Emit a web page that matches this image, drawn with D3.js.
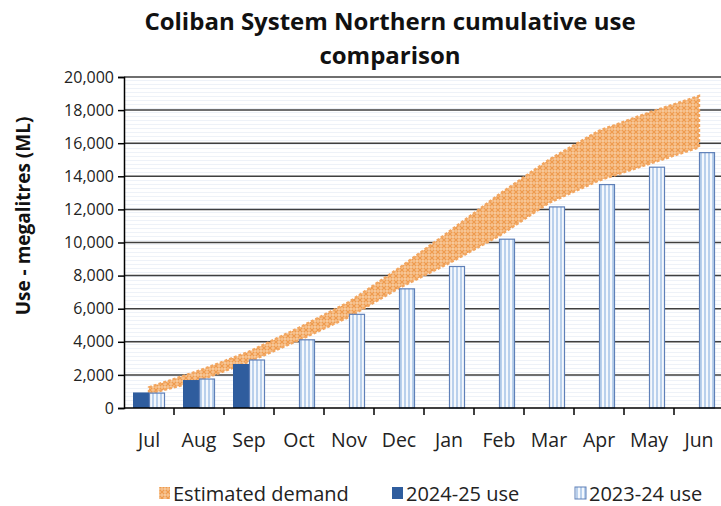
<!DOCTYPE html>
<html><head><meta charset="utf-8">
<script src="https://cdn.jsdelivr.net/npm/d3@7"></script>
<style>body{margin:0;background:#fff}svg{display:block;font-family:"Open Sans",sans-serif}</style>
</head><body><svg id="c" width="721" height="506"></svg>
<script>
const months = ["Jul","Aug","Sep","Oct","Nov","Dec","Jan","Feb","Mar","Apr","May","Jun"];
const use2425 = [940, 1690, 2660];
const use2324 = [900, 1750, 2900, 4120, 5660, 7200, 8550, 10200, 12150, 13500, 14550, 15430];
const demandLow = [850, 1650, 2800, 4100, 5500, 7250, 8750, 10400, 12400, 13750, 14750, 15750];
const demandHigh = [1250, 2250, 3400, 4850, 6400, 8450, 10650, 12900, 15000, 16750, 17850, 18850];
const yTicks = [0,2000,4000,6000,8000,10000,12000,14000,16000,18000,20000];
const seriesNames = ["2024-25 use","2023-24 use"];
const title = ["Coliban System Northern cumulative use","comparison"];
const yTitle = "Use - megalitres (ML)";

const svg = d3.select("#c");
const pLeft = 124, pRight = 724, pTop = 77, pBottom = 408;
const x = d3.scaleBand().domain(months).range([pLeft, pRight]).paddingInner(0).paddingOuter(0);
const xb = d3.scaleBand().domain(seriesNames).range([9, 41]).padding(0);
const y = d3.scaleLinear().domain([0, 20000]).range([pBottom, pTop]);

const defs = svg.append("defs");
const pat = defs.append("pattern").attr("id","dem").attr("patternUnits","userSpaceOnUse").attr("width",6).attr("height",6);
pat.append("rect").attr("width",6).attr("height",6).attr("fill","#F6C08C");
pat.append("path").attr("d","M0,0L6,6M6,0L0,6").attr("stroke","#EE9A4C").attr("stroke-width",1.2);
pat.append("circle").attr("cx",3).attr("cy",3).attr("r",0.9).attr("fill","#FBDDBD");
const sp = defs.append("pattern").attr("id","stripe").attr("patternUnits","userSpaceOnUse").attr("width",4).attr("height",4);
sp.append("rect").attr("width",4).attr("height",4).attr("fill","#F4F8FD");
sp.append("rect").attr("width",2).attr("height",4).attr("fill","#B9D0EC");
const bgp = defs.append("pattern").attr("id","bg").attr("patternUnits","userSpaceOnUse").attr("width",4).attr("height",4);
bgp.append("rect").attr("width",4).attr("height",4).attr("fill","#FFFFFF");
bgp.append("rect").attr("width",4).attr("height",1).attr("fill","#EEF2F8");

svg.append("rect").attr("x",pLeft).attr("y",pTop).attr("width",pRight-pLeft).attr("height",pBottom-pTop).attr("fill","url(#bg)");

svg.append("g").selectAll("line").data(yTicks.filter(d=>d>0)).join("line")
  .attr("x1",pLeft).attr("x2",pRight).attr("y1",d=>y(d)).attr("y2",d=>y(d))
  .attr("stroke","#3F3F3F").attr("stroke-width",1.5);

const cx = d => x(d) + x.bandwidth()/2;
const area = d3.area().x((d,i)=>cx(months[i])).y0((d,i)=>y(demandLow[i])).y1((d,i)=>y(demandHigh[i]));
svg.append("path").datum(months).attr("d",area).attr("fill","url(#dem)")
  .attr("stroke","#F2A660").attr("stroke-width",2.4).attr("stroke-dasharray","3,2");

const g = svg.append("g");
g.selectAll(".b1").data(use2425).join("rect")
  .attr("x",(d,i)=>x(months[i])+xb(seriesNames[0])).attr("width",xb.bandwidth())
  .attr("y",d=>y(d)).attr("height",d=>y(0)-y(d)).attr("fill","#2F5D9E");
g.selectAll(".b2").data(use2324).join("rect")
  .attr("x",(d,i)=>x(months[i])+xb(seriesNames[1])+0.5).attr("width",xb.bandwidth()-1)
  .attr("y",d=>y(d)).attr("height",d=>y(0)-y(d)).attr("fill","url(#stripe)")
  .attr("stroke","#5F80B8").attr("stroke-width",1.2);

const yAxis = d3.axisLeft(y).tickValues(yTicks).tickSize(6).tickFormat(d3.format(","));
const ya = svg.append("g").attr("transform",`translate(${pLeft},0)`).call(yAxis);
ya.select(".domain").attr("stroke","#000").attr("stroke-width",1.5);
ya.selectAll(".tick line").attr("stroke","#000").attr("stroke-width",1.5);
ya.selectAll("text").attr("font-size",16).attr("fill","#222").attr("x",-10).attr("font-family","Open Sans");

const xa = svg.append("g").attr("transform",`translate(0,${pBottom})`);
xa.append("line").attr("x1",pLeft).attr("x2",pRight).attr("stroke","#000").attr("stroke-width",1.5);
xa.selectAll(".tk").data(months.slice(1)).join("line")
  .attr("x1",d=>x(d)).attr("x2",d=>x(d)).attr("y1",0).attr("y2",7).attr("stroke","#000").attr("stroke-width",1.5);
xa.selectAll(".lb").data(months).join("text")
  .attr("x",d=>cx(d)).attr("y",39).attr("text-anchor","middle").attr("font-size",19.5).attr("fill","#222").text(d=>d);

svg.append("g").selectAll("text").data(title).join("text")
  .attr("x",390).attr("y",(d,i)=>30+i*34).attr("text-anchor","middle")
  .attr("font-size",24).attr("font-weight","bold").attr("fill","#111").text(d=>d);
svg.append("text").attr("transform","translate(30,216) rotate(-90)").attr("text-anchor","middle")
  .attr("font-size",19).attr("font-weight","bold").attr("fill","#111").text(yTitle);

const lg = svg.append("g").attr("font-size",20).attr("fill","#222");
const items = [
  {label:"Estimated demand", x:159, fill:"url(#dem)", stroke:"none"},
  {label:seriesNames[0], x:392, fill:"#2F5D9E", stroke:"none"},
  {label:seriesNames[1], x:575, fill:"url(#stripe)", stroke:"#5F80B8"}
];
items.forEach(it=>{
  lg.append("rect").attr("x",it.x).attr("y",487).attr("width",11).attr("height",12)
    .attr("fill",it.fill).attr("stroke",it.stroke);
  lg.append("text").attr("x",it.x+14).attr("y",501).text(it.label);
});
</script></body></html>
